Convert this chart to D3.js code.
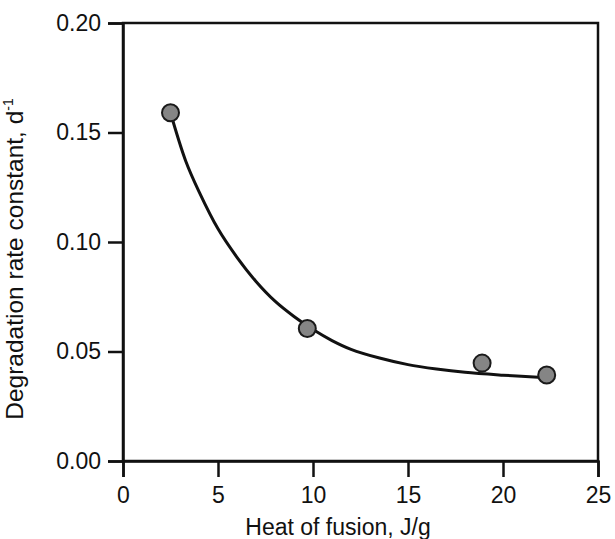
<!DOCTYPE html>
<html>
<head>
<meta charset="utf-8">
<script src="https://cdn.jsdelivr.net/npm/d3@7/dist/d3.min.js"></script>
<style>
	body { margin: 0; background: #fff; }
	text { font-family: "Liberation Sans", Arial, sans-serif; fill: #111; }
</style>
</head>
<body>
<svg id="chart" width="615" height="539"></svg>
<script>
// measured points
var heatOfFusion = [2.5, 9.7, 18.9, 22.3];
var rateConstant = [0.159, 0.0605, 0.0447, 0.0393];

// fitted curve
var curveX = [2.5, 3.3, 4.0, 5.0, 6.0, 7.0, 8.0, 9.0, 10.0, 11.0, 12.0, 13.5, 15.0, 16.5, 18.0, 20.0, 22.3];
var curveY = [0.159, 0.137, 0.123, 0.106, 0.093, 0.082, 0.073, 0.066, 0.060, 0.055, 0.051, 0.047, 0.044, 0.042, 0.0405, 0.0392, 0.038];

var xTicks = [0, 5, 10, 15, 20, 25];
var yTicks = [0, 0.05, 0.10, 0.15, 0.20];

(function()
{
	var svg = d3.select("#chart");
	var plotLeft = 123, plotRight = 598, plotTop = 23, plotBottom = 461;

	var x = d3.scaleLinear().domain([0, 25]).range([plotLeft, plotRight]);
	var y = d3.scaleLinear().domain([0, 0.20]).range([plotBottom, plotTop]);

	// frame
	svg.append("rect")
		.attr("x", plotLeft)
		.attr("y", plotTop)
		.attr("width", plotRight - plotLeft)
		.attr("height", plotBottom - plotTop)
		.attr("fill", "none")
		.attr("stroke", "#111")
		.attr("stroke-width", 2.5);

	var xAxis = svg.append("g")
		.attr("transform", "translate(0," + plotBottom + ")")
		.call(d3.axisBottom(x).tickValues(xTicks).tickSize(16).tickPadding(10).tickFormat(d3.format("d")));

	var yAxis = svg.append("g")
		.attr("transform", "translate(" + plotLeft + ",0)")
		.call(d3.axisLeft(y).tickValues(yTicks).tickSize(15).tickPadding(7).tickFormat(d3.format(".2f")));

	[xAxis, yAxis].forEach(function(a)
	{
		a.attr("font-size", null).attr("font-family", null);
		a.select(".domain").attr("stroke", "#111").attr("stroke-width", 2.5);
		a.selectAll(".tick line").attr("stroke", "#111").attr("stroke-width", 2.5);
		a.selectAll(".tick text").style("font-size", "23px").attr("fill", "#111");
	});

	// fit line
	var line = d3.line()
		.x(function(d, i) { return x(d); })
		.y(function(d, i) { return y(curveY[i]); })
		.curve(d3.curveCatmullRom);

	svg.append("path")
		.attr("d", line(curveX))
		.attr("fill", "none")
		.attr("stroke", "#111")
		.attr("stroke-width", 3);

	svg.selectAll("circle.pt").data(heatOfFusion).enter().append("circle")
		.classed("pt", 1)
		.attr("cx", function(d, i) { return x(d); })
		.attr("cy", function(d, i) { return y(rateConstant[i]); })
		.attr("r", 8.5)
		.attr("fill", "#858585")
		.attr("stroke", "#1a1a1a")
		.attr("stroke-width", 2);

	// titles
	svg.append("text")
		.text("Heat of fusion, J/g")
		.attr("x", 338)
		.attr("y", 535)
		.attr("text-anchor", "middle")
		.style("font-size", "23px");

	var yt = svg.append("text")
		.attr("transform", "translate(23,259) rotate(-90)")
		.attr("text-anchor", "middle")
		.style("font-size", "24.5px");
	yt.append("tspan").text("Degradation rate constant, d");
	yt.append("tspan").text("-1").style("font-size", "14px").attr("dy", -10);
})();
</script>
</body>
</html>
